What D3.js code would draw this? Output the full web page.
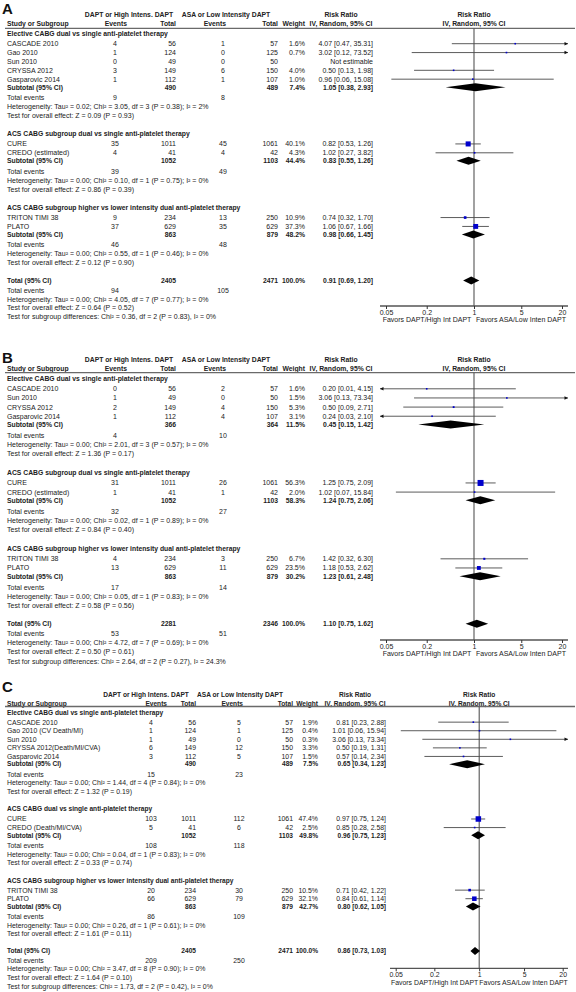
<!DOCTYPE html>
<html><head><meta charset="utf-8">
<script src="https://cdn.jsdelivr.net/npm/d3@7"></script>
<style>
body{margin:0;background:#fff;}
svg{display:block;font-family:"Liberation Sans",Arial,sans-serif;}
</style></head><body>
<svg id="chart" width="576" height="992"></svg>
<script>
// ---------------- DATA ----------------
const tickValues = [0.05, 0.2, 1, 5, 20];
const favorsLabels = ["Favors DAPT/High Int DAPT", "Favors ASA/Low Inten DAPT"];
const groupHeader = ["DAPT or High Intens. DAPT", "ASA or Low Intensity DAPT", "Risk Ratio", "Risk Ratio"];
const colHeader = ["Study or Subgroup", "Events", "Total", "Events", "Total", "Weight", "IV, Random, 95% CI", "IV, Random, 95% CI"];

// Panel A
const groupsA = ["Elective CABG dual vs single anti-platelet therapy",
  "ACS CABG subgroup dual vs single anti-platelet therapy",
  "ACS CABG subgroup higher vs lower intensity dual anti-platelet therapy"];
// [group, study, events1, total1, events2, total2, weight, rr, lo, hi]
const studiesA = [
  [0, "CASCADE 2010", 4, 56, 1, 57, 1.6, 4.07, 0.47, 35.31],
  [0, "Gao 2010", 1, 124, 0, 125, 0.7, 3.02, 0.12, 73.52],
  [0, "Sun 2010", 0, 49, 0, 50, null, null, null, null],
  [0, "CRYSSA 2012", 3, 149, 6, 150, 4.0, 0.50, 0.13, 1.98],
  [0, "Gasparovic 2014", 1, 112, 1, 107, 1.0, 0.96, 0.06, 15.08],
  [1, "CURE", 35, 1011, 45, 1061, 40.1, 0.82, 0.53, 1.26],
  [1, "CREDO (estimated)", 4, 41, 4, 42, 4.3, 1.02, 0.27, 3.82],
  [2, "TRITON TIMI 38", 9, 234, 13, 250, 10.9, 0.74, 0.32, 1.70],
  [2, "PLATO", 37, 629, 35, 629, 37.3, 1.06, 0.67, 1.66]
];
// [total1, total2, weight, rr, lo, hi, events1, events2]
const subtotalsA = [
  [490, 489, 7.4, 1.05, 0.38, 2.93, 9, 8],
  [1052, 1103, 44.4, 0.83, 0.55, 1.26, 39, 49],
  [863, 879, 48.2, 0.98, 0.66, 1.45, 46, 48]
];
const hetA = ["Heterogeneity: Tau² = 0.02; Chi² = 3.05, df = 3 (P = 0.38); I² = 2%",
  "Heterogeneity: Tau² = 0.00; Chi² = 0.10, df = 1 (P = 0.75); I² = 0%",
  "Heterogeneity: Tau² = 0.00; Chi² = 0.55, df = 1 (P = 0.46); I² = 0%"];
const testA = ["Test for overall effect: Z = 0.09 (P = 0.93)",
  "Test for overall effect: Z = 0.86 (P = 0.39)",
  "Test for overall effect: Z = 0.12 (P = 0.90)"];
const totalA = [2405, 2471, 100.0, 0.91, 0.69, 1.20, 94, 105];
const totalTextA = ["Heterogeneity: Tau² = 0.00; Chi² = 4.05, df = 7 (P = 0.77); I² = 0%",
  "Test for overall effect: Z = 0.64 (P = 0.52)",
  "Test for subgroup differences: Chi² = 0.36, df = 2 (P = 0.83), I² = 0%"];

// Panel B
const groupsB = groupsA;
const studiesB = [
  [0, "CASCADE 2010", 0, 56, 2, 57, 1.6, 0.20, 0.01, 4.15],
  [0, "Sun 2010", 1, 49, 0, 50, 1.5, 3.06, 0.13, 73.34],
  [0, "CRYSSA 2012", 2, 149, 4, 150, 5.3, 0.50, 0.09, 2.71],
  [0, "Gasparovic 2014", 1, 112, 4, 107, 3.1, 0.24, 0.03, 2.10],
  [1, "CURE", 31, 1011, 26, 1061, 56.3, 1.25, 0.75, 2.09],
  [1, "CREDO (estimated)", 1, 41, 1, 42, 2.0, 1.02, 0.07, 15.84],
  [2, "TRITON TIMI 38", 4, 234, 3, 250, 6.7, 1.42, 0.32, 6.30],
  [2, "PLATO", 13, 629, 11, 629, 23.5, 1.18, 0.53, 2.62]
];
const subtotalsB = [
  [366, 364, 11.5, 0.45, 0.15, 1.42, 4, 10],
  [1052, 1103, 58.3, 1.24, 0.75, 2.06, 32, 27],
  [863, 879, 30.2, 1.23, 0.61, 2.48, 17, 14]
];
const hetB = ["Heterogeneity: Tau² = 0.00; Chi² = 2.01, df = 3 (P = 0.57); I² = 0%",
  "Heterogeneity: Tau² = 0.00; Chi² = 0.02, df = 1 (P = 0.89); I² = 0%",
  "Heterogeneity: Tau² = 0.00; Chi² = 0.05, df = 1 (P = 0.83); I² = 0%"];
const testB = ["Test for overall effect: Z = 1.36 (P = 0.17)",
  "Test for overall effect: Z = 0.84 (P = 0.40)",
  "Test for overall effect: Z = 0.58 (P = 0.56)"];
const totalB = [2281, 2346, 100.0, 1.10, 0.75, 1.62, 53, 51];
const totalTextB = ["Heterogeneity: Tau² = 0.00; Chi² = 4.72, df = 7 (P = 0.69); I² = 0%",
  "Test for overall effect: Z = 0.50 (P = 0.61)",
  "Test for subgroup differences: Chi² = 2.64, df = 2 (P = 0.27), I² = 24.3%"];

// Panel C
const groupsC = ["Elective CABG dual vs single anti-platelet therapy",
  "ACS CABG dual vs single anti-platelet therapy",
  "ACS CABG subgroup higher vs lower intensity dual anti-platelet therapy"];
const studiesC = [
  [0, "CASCADE 2010", 4, 56, 5, 57, 1.9, 0.81, 0.23, 2.88],
  [0, "Gao 2010 (CV Death/MI)", 1, 124, 1, 125, 0.4, 1.01, 0.06, 15.94],
  [0, "Sun 2010", 1, 49, 0, 50, 0.3, 3.06, 0.13, 73.34],
  [0, "CRYSSA 2012(Death/MI/CVA)", 6, 149, 12, 150, 3.3, 0.50, 0.19, 1.31],
  [0, "Gasparovic 2014", 3, 112, 5, 107, 1.5, 0.57, 0.14, 2.34],
  [1, "CURE", 103, 1011, 112, 1061, 47.4, 0.97, 0.75, 1.24],
  [1, "CREDO (Death/MI/CVA)", 5, 41, 6, 42, 2.5, 0.85, 0.28, 2.58],
  [2, "TRITON TIMI 38", 20, 234, 30, 250, 10.5, 0.71, 0.42, 1.22],
  [2, "PLATO", 66, 629, 79, 629, 32.1, 0.84, 0.61, 1.14]
];
const subtotalsC = [
  [490, 489, 7.5, 0.65, 0.34, 1.23, 15, 23],
  [1052, 1103, 49.8, 0.96, 0.75, 1.23, 108, 118],
  [863, 879, 42.7, 0.80, 0.62, 1.05, 86, 109]
];
const hetC = ["Heterogeneity: Tau² = 0.00; Chi² = 1.44, df = 4 (P = 0.84); I² = 0%",
  "Heterogeneity: Tau² = 0.00; Chi² = 0.04, df = 1 (P = 0.83); I² = 0%",
  "Heterogeneity: Tau² = 0.00; Chi² = 0.26, df = 1 (P = 0.61); I² = 0%"];
const testC = ["Test for overall effect: Z = 1.32 (P = 0.19)",
  "Test for overall effect: Z = 0.33 (P = 0.74)",
  "Test for overall effect: Z = 1.61 (P = 0.11)"];
const totalC = [2405, 2471, 100.0, 0.86, 0.73, 1.03, 209, 250];
const totalTextC = ["Heterogeneity: Tau² = 0.00; Chi² = 3.47, df = 8 (P = 0.90); I² = 0%",
  "Test for overall effect: Z = 1.64 (P = 0.10)",
  "Test for subgroup differences: Chi² = 1.73, df = 2 (P = 0.42), I² = 0%"];

// ---------------- LAYOUT ----------------
const colsAB = {study:7, ev1:115, tot1:176, ev2:223, tot2:278, wt:305, rr:373, h1a:129, h1b:226, h1c:341, ev1h:127, ev2h:226, ivc:341, x0:386, x1:562, axL:380, axR:568, font:7, bold:6.8};
const colsC = {study:7, ev1:151, tot1:196, ev2:239, tot2:293, wt:318, rr:386, h1a:146, h1b:240, h1c:355, ev1h:167, ev2h:243, ivc:355, x0:395.7, x1:562.7, axL:390, axR:568, font:6.9, bold:6.6};

const panels = [
  {letter:"A", cols:colsAB, letterY:13.5, hdr1:15, hdr2:24, line:28.3, first:33.5, unit:8.87, axis:306,
   groups:groupsA, studies:studiesA, subs:subtotalsA, het:hetA, test:testA, total:totalA, totalText:totalTextA},
  {letter:"B", cols:colsAB, letterY:362.7, hdr1:359.3, hdr2:368.3, line:372.7, first:378.3, unit:9.14, axis:640,
   groups:groupsB, studies:studiesB, subs:subtotalsB, het:hetB, test:testB, total:totalB, totalText:totalTextB},
  {letter:"C", cols:colsC, letterY:691.7, hdr1:695, hdr2:704, line:706.5, first:712.3, unit:8.57, axis:968.3,
   groups:groupsC, studies:studiesC, subs:subtotalsC, het:hetC, test:testC, total:totalC, totalText:totalTextC}
];

const gaps = {
  group:{test:2.05},
  study:{group:1.15, study:1.0},
  sub:{study:0.9},
  events:{sub:1.2, total:1.1},
  het:{events:1.0},
  test:{het:1.0, test:1.0},
  total:{test:2.0}
};

const svg = d3.select("#chart");
const TXT = "#222";
const fmtW = d => d == null ? "" : d.toFixed(1) + "%";
const fmtRR = (r, l, h) => r == null ? "Not estimable" : `${r.toFixed(2)} [${l.toFixed(2)}, ${h.toFixed(2)}]`;

function drawPanel(P) {
  const L = P.cols;
  const g = svg.append("g");
  const text = (x, y, s, anchor, bold) => g.append("text")
    .attr("x", x).attr("y", y).attr("dy", "0.35em")
    .attr("text-anchor", anchor || "start")
    .attr("font-size", bold ? L.bold : L.font)
    .attr("font-weight", bold ? "bold" : "normal")
    .attr("fill", TXT).text(s);

  // panel letter
  g.append("text").attr("x", 2).attr("y", P.letterY).attr("font-size", 15)
    .attr("font-weight", "bold").attr("fill", "#111").text(P.letter);

  // headers
  text(L.h1a, P.hdr1, groupHeader[0], "middle", true);
  text(L.h1b, P.hdr1, groupHeader[1], "middle", true);
  text(L.h1c, P.hdr1, groupHeader[2], "middle", true);
  text(L.study, P.hdr2, colHeader[0], "start", true);
  text(L.ev1h, P.hdr2, colHeader[1], "end", true);
  text(L.tot1, P.hdr2, colHeader[2], "end", true);
  text(L.ev2h, P.hdr2, colHeader[3], "end", true);
  text(L.tot2, P.hdr2, colHeader[4], "end", true);
  text(L.wt, P.hdr2, colHeader[5], "end", true);
  text(L.ivc, P.hdr2, colHeader[6], "middle", true);

  const x = d3.scaleLog().domain([tickValues[0], tickValues[tickValues.length - 1]]).range([L.x0, L.x1]);
  const chartMid = x(1);
  text(chartMid, P.hdr1, groupHeader[3], "middle", true);
  text(chartMid, P.hdr2, colHeader[7], "middle", true);

  g.append("line").attr("x1", 5).attr("x2", 575).attr("y1", P.line).attr("y2", P.line)
    .attr("stroke", "#6a6a6a").attr("stroke-width", 1.3);

  // build rows
  const rows = [];
  let u = 0, prev = null;
  const push = (type, obj) => { if (prev) u += gaps[type][prev]; rows.push(Object.assign({type, u}, obj)); prev = type; };
  P.groups.forEach((name, gi) => {
    push("group", {label: name});
    P.studies.filter(s => s[0] === gi).forEach(s => push("study", {s}));
    push("sub", {s: P.subs[gi]});
    push("events", {e1: P.subs[gi][6], e2: P.subs[gi][7]});
    push("het", {label: P.het[gi]});
    push("test", {label: P.test[gi]});
  });
  push("total", {s: P.total});
  push("events", {e1: P.total[6], e2: P.total[7]});
  push("het", {label: P.totalText[0]});
  push("test", {label: P.totalText[1]});
  push("test", {label: P.totalText[2]});

  const y = d3.scaleLinear().domain([0, 1]).range([P.first, P.first + P.unit]);

  // vertical line of no effect
  g.append("line").attr("x1", chartMid).attr("x2", chartMid).attr("y1", P.line).attr("y2", P.axis)
    .attr("stroke", "#555").attr("stroke-width", 1.1);

  const clipLo = x.invert(L.axL), clipHi = x.invert(L.axR);
  const size = d3.scaleSqrt().domain([0, 100]).range([0, 8]);

  rows.forEach(r => {
    const yy = y(r.u);
    if (r.type === "group") text(L.study, yy, r.label, "start", true);
    else if (r.type === "het" || r.type === "test") text(L.study, yy, r.label, "start", false);
    else if (r.type === "events") {
      text(L.study, yy, "Total events");
      text(L.ev1, yy, r.e1, "middle");
      text(L.ev2, yy, r.e2, "middle");
    } else if (r.type === "study") {
      const s = r.s;
      text(L.study, yy, s[1]);
      text(L.ev1, yy, s[2], "middle");
      text(L.tot1, yy, s[3], "end");
      text(L.ev2, yy, s[4], "middle");
      text(L.tot2, yy, s[5], "end");
      text(L.wt, yy, fmtW(s[6]), "end");
      text(L.rr, yy, fmtRR(s[7], s[8], s[9]), "end");
      if (s[7] != null) {
        const lo = Math.max(s[8], clipLo), hi = Math.min(s[9], clipHi);
        g.append("line").attr("x1", x(lo)).attr("x2", x(hi)).attr("y1", yy).attr("y2", yy)
          .attr("stroke", "#4a4a4a").attr("stroke-width", 0.9);
        if (s[9] > clipHi) {
          const xe = x(clipHi);
          g.append("path").attr("d", `M${xe},${yy} L${xe - 3.5},${yy - 1.8} L${xe - 3.5},${yy + 1.8} Z`).attr("fill", "#111");
        }
        if (s[8] < clipLo) {
          const xe = x(clipLo);
          g.append("path").attr("d", `M${xe},${yy} L${xe + 3.5},${yy - 1.8} L${xe + 3.5},${yy + 1.8} Z`).attr("fill", "#111");
        }
        const sz = Math.max(1.6, size(s[6]));
        g.append("rect").attr("x", x(s[7]) - sz / 2).attr("y", yy - sz / 2)
          .attr("width", sz).attr("height", sz).attr("fill", "#0000cc");
      }
    } else if (r.type === "sub" || r.type === "total") {
      const s = r.s;
      text(L.study, yy, r.type === "sub" ? "Subtotal (95% CI)" : "Total (95% CI)", "start", true);
      text(L.tot1, yy, s[0], "end", true);
      text(L.tot2, yy, s[1], "end", true);
      text(L.wt, yy, fmtW(s[2]), "end", true);
      text(L.rr, yy, fmtRR(s[3], s[4], s[5]), "end", true);
      const h = 4;
      g.append("path").attr("d",
        `M${x(s[4])},${yy} L${x(s[3])},${yy - h} L${x(s[5])},${yy} L${x(s[3])},${yy + h} Z`)
        .attr("fill", "#000");
    }
  });

  // axis
  g.append("line").attr("x1", L.axL).attr("x2", L.axR).attr("y1", P.axis).attr("y2", P.axis)
    .attr("stroke", "#555").attr("stroke-width", 1.3);
  const ax = g.append("g").attr("transform", `translate(0,${P.axis})`)
    .call(d3.axisBottom(x).tickValues(tickValues).tickFormat(d => String(d)).tickSize(3).tickPadding(1));
  ax.select(".domain").remove();
  ax.selectAll("line").attr("stroke", "#333");
  ax.selectAll("text").attr("font-size", L.font).attr("fill", TXT).attr("font-family", "Liberation Sans, Arial, sans-serif");
  text((L.axL + chartMid) / 2, P.axis + 14, favorsLabels[0], "middle");
  text((chartMid + L.axR) / 2, P.axis + 14, favorsLabels[1], "middle");
}

panels.forEach(drawPanel);
</script></body></html>
